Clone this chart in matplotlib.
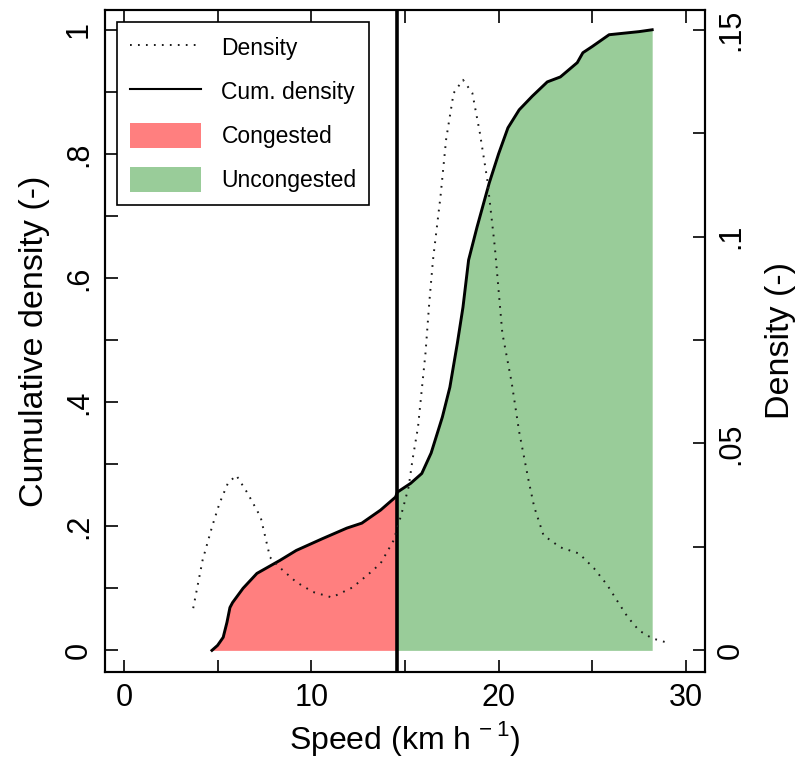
import numpy as np
import matplotlib.pyplot as plt
from matplotlib.lines import Line2D
from matplotlib.patches import Patch

plt.rcParams['font.family'] = ['Liberation Sans', 'DejaVu Sans']

# empirical cumulative density of speed
cum_speed = [4.7, 5.0, 5.3, 5.5, 5.66, 5.8, 6.36, 7.1, 8.33, 9.2, 10.6, 11.9, 12.7,
             13.7, 14.5, 14.6, 15.3, 15.9, 16.4, 17.0, 17.4, 17.8, 18.1, 18.4, 18.85,
             19.5, 20.0, 20.5, 21.1, 21.8, 22.6, 23.3, 24.2, 24.5, 25.0, 25.9, 27.5, 28.2]
cum_val = [0.0, 0.008, 0.021, 0.045, 0.069, 0.077, 0.100, 0.124, 0.145, 0.161, 0.180,
           0.197, 0.205, 0.226, 0.247, 0.255, 0.269, 0.285, 0.318, 0.376, 0.424, 0.495,
           0.553, 0.629, 0.682, 0.753, 0.800, 0.842, 0.871, 0.893, 0.916, 0.924, 0.947,
           0.963, 0.973, 0.992, 0.997, 1.0]

# kernel density of speed
dens_speed = [3.7, 4.2, 4.7, 5.1, 5.55, 6.0, 6.6, 7.3, 7.8, 8.3, 9.2, 10.1, 11.1, 12.2,
              13.1, 13.7, 14.4, 14.8, 15.2, 15.4, 15.7, 15.9, 16.1, 16.3, 16.5, 16.9,
              17.2, 17.6, 18.1, 18.6, 19.0, 19.4, 19.8, 20.2, 20.7, 21.1, 21.6, 21.9,
              22.4, 23.3, 24.3, 25.1, 25.8, 26.3, 26.9, 27.5, 28.2, 28.9]
dens_val = [0.0102, 0.0218, 0.0298, 0.0355, 0.0404, 0.0423, 0.0380, 0.0322, 0.0225,
            0.0201, 0.0165, 0.0141, 0.0128, 0.0152, 0.0186, 0.0210, 0.0266, 0.0327,
            0.0395, 0.0459, 0.0540, 0.0630, 0.0719, 0.0840, 0.0944, 0.1097, 0.1235,
            0.1347, 0.1379, 0.1347, 0.1251, 0.1137, 0.0975, 0.0767, 0.0647, 0.0528,
            0.0411, 0.0347, 0.0278, 0.0249, 0.0234, 0.0198, 0.0158, 0.0122, 0.0080,
            0.0048, 0.0029, 0.0020]

threshold = 14.6

cum_speed = np.array(cum_speed)
cum_val = np.array(cum_val)

fig = plt.figure(figsize=(8.09, 7.62), dpi=100)
ax = fig.add_axes([0.130, 0.118, 0.741, 0.869])
ax2 = ax.twinx()

red = '#FF7F7F'
green = '#99CC99'

ax.fill_between(cum_speed, 0, cum_val, where=cum_speed <= threshold, color=red, lw=0,
                interpolate=True)
ax.fill_between(cum_speed, 0, cum_val, where=cum_speed >= threshold, color=green, lw=0,
                interpolate=True)
ax.plot(cum_speed, cum_val, color='black', lw=2.1, zorder=3)
ax.axvline(threshold, color='black', lw=2.6, zorder=4)

ax2.plot(dens_speed, dens_val, color='#1a1a1a', lw=1.4, dashes=(0.9, 3.2))

ax.set_xlim(-1, 31)
ax.set_ylim(-0.035, 1.032)
ax2.set_ylim(-0.035 * 0.15, 1.032 * 0.15)

ax.set_xticks([0, 10, 20, 30])
ax.set_xticks([5, 15, 25], minor=True)
ax.set_yticks([0, 0.2, 0.4, 0.6, 0.8, 1.0])
ax.set_yticklabels(['0', '.2', '.4', '.6', '.8', '1'], rotation=90, va='center')
ax.set_yticks([0.1, 0.3, 0.5, 0.7, 0.9], minor=True)
ax2.set_yticks([0, 0.05, 0.1, 0.15])
ax2.set_yticklabels(['0', '.05', '.1', '.15'], rotation=90, va='center')
ax2.set_yticks([0.025, 0.075, 0.125], minor=True)

for a in (ax, ax2):
    a.tick_params(which='both', direction='in', length=9, width=1.2, labelsize=22, pad=8)
    for s in a.spines.values():
        s.set_linewidth(1.5)
ax.tick_params(axis='x', which='both', top=True)
ax.tick_params(axis='y', which='both', right=False)

ax.set_xlabel(r'Speed (km h$^{\mathregular{\,-1}}$)', fontsize=23, labelpad=4)
ax.set_ylabel('Cumulative density (-)', fontsize=24.5, labelpad=10)
ax2.set_ylabel('Density (-)', fontsize=24.5, rotation=90, labelpad=14)

handles = [Line2D([], [], color='#1a1a1a', lw=1.4, dashes=(0.9, 3.2)),
           Line2D([], [], color='black', lw=1.5),
           Patch(color=red, lw=0), Patch(color=green, lw=0)]
labels = ['Density', 'Cum. density', 'Congested', 'Uncongested']
leg = ax2.legend(handles, labels, loc='upper left', bbox_to_anchor=(0.02, 0.982),
                 borderaxespad=0, fontsize=16.5, fancybox=False, frameon=True,
                 handlelength=3.1, handleheight=1.35, handletextpad=0.9,
                 labelspacing=0.8, borderpad=0.55)
leg.get_frame().set_edgecolor('black')
leg.get_frame().set_linewidth(1.2)
leg.get_frame().set_alpha(1)

fig.savefig('out.png', dpi=100)
